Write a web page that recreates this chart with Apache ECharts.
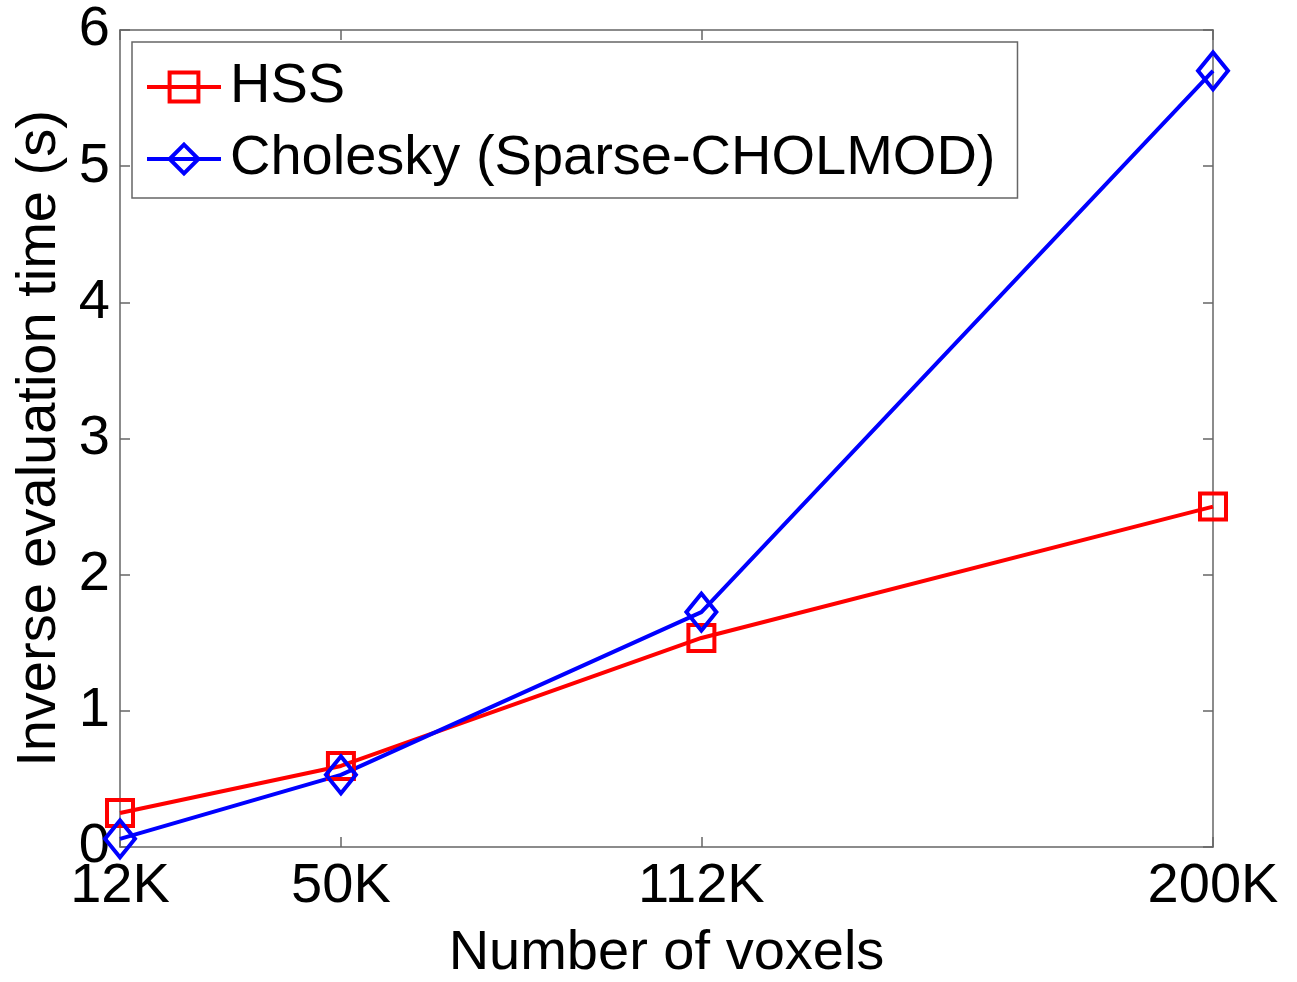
<!DOCTYPE html>
<html>
<head>
<meta charset="utf-8">
<script src="https://cdn.jsdelivr.net/npm/echarts@6/dist/echarts.min.js"></script>
<style>
  html, body { margin: 0; padding: 0; background: #fff; }
  #chart { width: 1297px; height: 982px; }
</style>
</head>
<body>
<div id="chart"></div>
<script>
const voxels = [12000, 50000, 112000, 200000]
const xTicks = [12000, 50000, 112000, 200000]
const hss = [0.25, 0.595, 1.535, 2.50]
const cholesky = [0.06, 0.53, 1.725, 5.70]

const font = 'Liberation Sans, Arial, sans-serif'
const axisColor = '#666'
const fontSize = 56
const red = '#ff0000'
const blue = '#0000ff'

function pairs(xs, ys) {
  return xs.map((x, i) => [x, ys[i]])
}

const chart = echarts.init(document.getElementById('chart'))

const xBase = {
  type: 'value',
  min: 12000,
  max: 200000,
  axisLine: { show: true, onZero: false, lineStyle: { color: axisColor, width: 1.5 } },
  axisTick: { show: true, inside: true, length: 10, customValues: xTicks, lineStyle: { color: axisColor, width: 1.5 } },
  splitLine: { show: false },
}
const yBase = {
  type: 'value',
  min: 0,
  max: 6,
  interval: 1,
  axisLine: { show: true, onZero: false, lineStyle: { color: axisColor, width: 1.5 } },
  axisTick: { show: true, inside: true, length: 10, lineStyle: { color: axisColor, width: 1.5 } },
  splitLine: { show: false },
}

chart.setOption({
  animation: false,
  backgroundColor: '#fff',
  textStyle: { fontFamily: font },
  grid: { left: 120, right: 84, top: 30, bottom: 135, outerBoundsMode: 'none', containLabel: false },
  legend: {
    orient: 'vertical',
    left: 132,
    top: 42,
    padding: [14, 22, 8, 13],
    itemGap: 10,
    itemWidth: 74,
    itemHeight: 36,
    backgroundColor: '#fff',
    borderColor: axisColor,
    borderWidth: 1.5,
    borderRadius: 0,
    lineStyle: { width: 4 },
    itemStyle: { borderWidth: 4 },
    textStyle: { color: '#000', fontSize: fontSize, fontFamily: font, lineHeight: 62, padding: [0, 0, 0, 4] },
    data: ['HSS', 'Cholesky (Sparse-CHOLMOD)'],
  },
  xAxis: [
    Object.assign({}, xBase, {
      position: 'bottom',
      name: 'Number of voxels',
      nameLocation: 'middle',
      nameGap: 79,
      nameTextStyle: { color: '#000', fontSize: fontSize, fontFamily: font },
      axisLabel: {
        customValues: xTicks,
        color: '#000',
        fontSize: fontSize,
        fontFamily: font,
        margin: 12,
        formatter: v => (v / 1000) + 'K',
      },
    }),
    Object.assign({}, xBase, { position: 'top', axisLabel: { show: false } }),
  ],
  yAxis: [
    Object.assign({}, yBase, {
      position: 'left',
      name: 'Inverse evaluation time (s)',
      nameLocation: 'middle',
      nameGap: 51,
      nameTextStyle: { color: '#000', fontSize: fontSize, fontFamily: font },
      axisLabel: { color: '#000', fontSize: fontSize, fontFamily: font, margin: 10 },
    }),
    Object.assign({}, yBase, { position: 'right', axisLabel: { show: false } }),
  ],
  series: [
    {
      name: 'HSS',
      type: 'line',
      data: pairs(voxels, hss),
      symbol: 'rect',
      symbolSize: 26,
      showAllSymbol: true,
      lineStyle: { color: red, width: 4 },
      itemStyle: { color: 'rgba(255,255,255,0)', borderColor: red, borderWidth: 4 },
      emphasis: { disabled: true },
    },
    {
      name: 'Cholesky (Sparse-CHOLMOD)',
      type: 'line',
      data: pairs(voxels, cholesky),
      symbol: 'diamond',
      symbolSize: [30, 37],
      showAllSymbol: true,
      lineStyle: { color: blue, width: 4 },
      itemStyle: { color: 'rgba(255,255,255,0)', borderColor: blue, borderWidth: 4 },
      emphasis: { disabled: true },
    },
  ],
})
</script>
</body>
</html>
